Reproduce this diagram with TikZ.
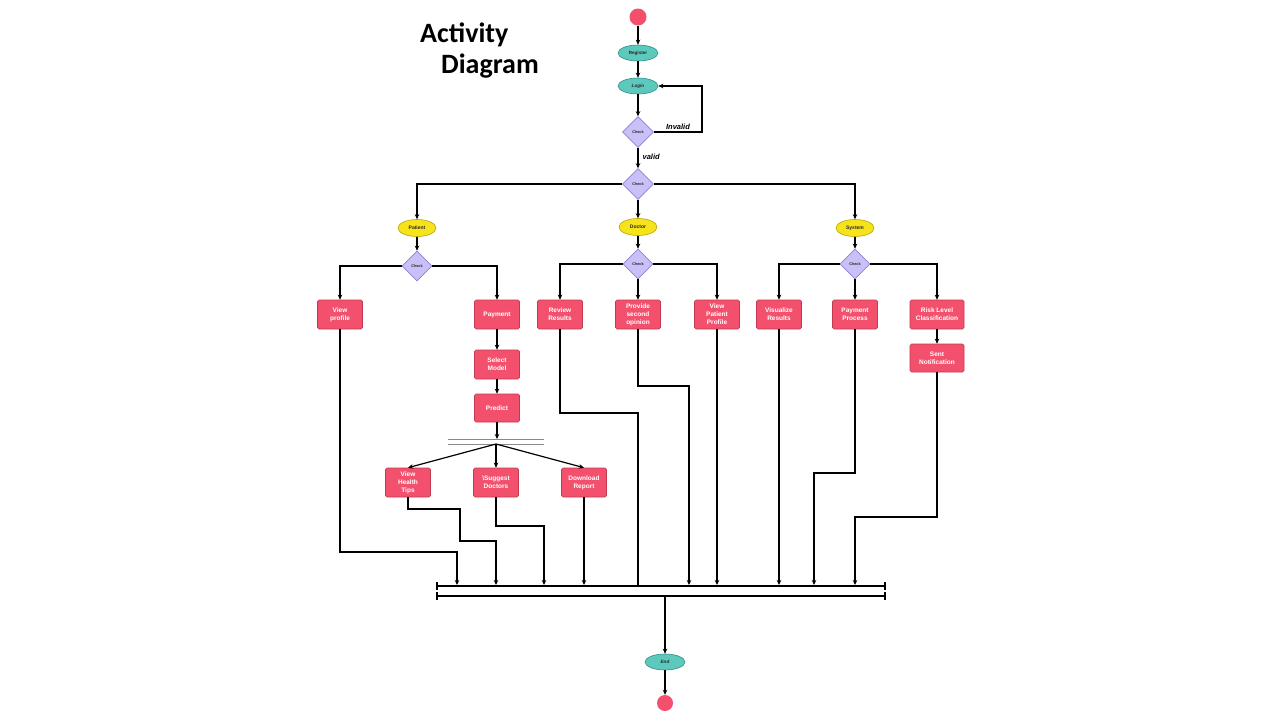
\documentclass[tikz,border=0pt]{standalone}
\usepackage{fontspec}
\setmainfont{Liberation Sans}
\newfontfamily\titlefont{Carlito}
\usetikzlibrary{shapes.geometric,arrows.meta}
\definecolor{pinkbox}{HTML}{F2506C}
\definecolor{pinkedge}{HTML}{C23A52}
\definecolor{tealfill}{HTML}{5CC9BC}
\definecolor{tealedge}{HTML}{2E8F85}
\definecolor{yellowfill}{HTML}{F7E31C}
\definecolor{yellowedge}{HTML}{B8A400}
\definecolor{lavfill}{HTML}{C9C0F7}
\definecolor{lavedge}{HTML}{8E80D8}
\definecolor{forkgray}{HTML}{8A8A8A}
\tikzset{
  flow/.style={line width=1.2pt, black},
  arr/.style={flow, -{Stealth[length=5pt,width=4.5pt]}},
  actbox/.style={draw=pinkedge, line width=0.6pt, fill=pinkbox, rounded corners=1.5pt,
    minimum width=45pt, minimum height=29pt, inner sep=1pt, align=center,
    text=white, font=\fontsize{6.5}{7.9}\selectfont\bfseries},
  tealell/.style={ellipse, draw=tealedge, line width=0.6pt, fill=tealfill, minimum width=40pt,
    minimum height=16pt, inner sep=0pt, font=\fontsize{4.6}{5}\selectfont\bfseries, text=black!85},
  yelell/.style={ellipse, draw=yellowedge, line width=0.6pt, fill=yellowfill, minimum width=38pt,
    minimum height=17pt, inner sep=0pt, font=\fontsize{5}{6}\selectfont\bfseries, text=black!85},
  chk/.style={diamond, draw=lavedge, line width=0.6pt, fill=lavfill, minimum width=31pt,
    minimum height=31pt, inner sep=0pt, font=\fontsize{3.8}{4}\selectfont\bfseries, text=black!85},
  dot/.style={circle, fill=pinkbox, minimum size=17pt, inner sep=0pt},
  lbl/.style={font=\fontsize{7.5}{8}\selectfont\bfseries\itshape, inner sep=0pt},
  ttl/.style={font=\titlefont\fontsize{28}{30}\selectfont\bfseries, inner sep=0pt, anchor=base west}
}
\begin{document}
\begin{tikzpicture}[x=1pt,y=-1pt]
\useasboundingbox[fill=white] (0,0) rectangle (1280,720);

% title
\node[ttl] (t1) at (420,42) {Activity};
\node[ttl] (t2) at (441,73) {Diagram};

% top part
\node[dot] (start) at (638,17) {};
\node[tealell] (reg) at (638,53) {Register};
\node[tealell, font=\fontsize{4.6}{5}\selectfont\bfseries\itshape] (login) at (638,86) {Login};
\node[chk] (chk1) at (638,132) {Check};
\node[chk] (chk2) at (638,184) {Check};
\coordinate (loopA) at (702,132);
\coordinate (loopB) at (702,86);

\node[yelell] (patient) at (417,228) {Patient};
\node[yelell] (doctor) at (638,227) {Doctor};
\node[yelell] (system) at (855,228) {System};

\node[chk, minimum width=30pt, minimum height=30pt] (chkP) at (417,266) {Check};
\node[chk, minimum width=30pt, minimum height=30pt] (chkD) at (638,264) {Check};
\node[chk, minimum width=30pt, minimum height=30pt] (chkS) at (855,264) {Check};

% activity boxes
\node[actbox] (viewprof) at (340,314.5) {View\\profile};
\node[actbox] (payment) at (497,314.5) {Payment};
\node[actbox] (review) at (560,314.5) {Review\\Results};
\node[actbox] (provide) at (638,314.5) {Provide\\second\\opinion};
\node[actbox] (viewpat) at (717,314.5) {View\\Patient\\Profile};
\node[actbox] (visual) at (779,314.5) {Visualize\\Results};
\node[actbox] (paypro) at (855,314.5) {Payment\\Process};
\node[actbox, minimum width=54pt] (risk) at (937,314.5) {Risk Level\\Classification};
\node[actbox, minimum width=54pt, minimum height=28pt] (sent) at (937,358) {Sent\\Notification};
\node[actbox] (select) at (497,364.5) {Select\\Model};
\node[actbox, minimum height=28pt] (predict) at (497,408) {Predict};

% fork
\coordinate (forkT) at (497,439);
\coordinate (forkB) at (496,444);
\draw[forkgray, line width=0.7pt] (448,439) -- (544,439);
\draw[forkgray, line width=0.7pt] (448,444) -- (544,444);

\node[actbox] (vht) at (408,482.5) {View\\Health\\Tips};
\node[actbox] (sugg) at (496,482.5) {\textbackslash Suggest\\Doctors};
\node[actbox] (dl) at (584,482.5) {Download\\Report};

% join bar
\draw[line width=1.8pt] (437,586) -- (885,586);
\draw[line width=1.8pt] (437,596) -- (885,596);
\foreach \x in {437,885} {
  \draw[line width=1.2pt] (\x,582) -- (\x,590);
  \draw[line width=1.2pt] (\x,592) -- (\x,600);
}
\coordinate (j1) at (457,585);
\coordinate (j2) at (496,585);
\coordinate (j3) at (544,585);
\coordinate (j4) at (584,585);
\coordinate (j5) at (638,585);
\coordinate (j6) at (689,585);
\coordinate (j7) at (717,585);
\coordinate (j8) at (779,585);
\coordinate (j9) at (814,585);
\coordinate (j10) at (855,585);
\coordinate (jout) at (665,597);

\node[tealell, font=\fontsize{4.6}{5}\selectfont\bfseries\itshape] (endell) at (665,662) {End};
\node[dot, minimum size=16pt] (enddot) at (665,703) {};

% connectors top
\draw[arr] (start) -- (reg);
\draw[arr] (reg) -- (login);
\draw[arr] (login) -- (chk1);
\draw[arr] (chk1.east) -- (loopA) -- (loopB) -- (login.east);
\node[lbl, anchor=south] at (678,130) {Invalid};
\draw[arr] (chk1) -- (chk2) node[lbl, pos=0.42, right=4pt] {valid};
\draw[arr] (chk2.west) -| (patient.north);
\draw[arr] (chk2.east) -| (system.north);
\draw[arr] (chk2) -- (doctor);
\draw[arr] (patient) -- (chkP);
\draw[arr] (doctor) -- (chkD);
\draw[arr] (system) -- (chkS);

\draw[arr] (chkP.west) -| (viewprof.north);
\draw[arr] (chkP.east) -| (payment.north);
\draw[arr] (chkD.west) -| (review.north);
\draw[arr] (chkD) -- (provide);
\draw[arr] (chkD.east) -| (viewpat.north);
\draw[arr] (chkS.west) -| (visual.north);
\draw[arr] (chkS) -- (paypro);
\draw[arr] (chkS.east) -| (risk.north);
\draw[arr] (risk) -- (sent);
\draw[arr] (payment) -- (select);
\draw[arr] (select) -- (predict);
\draw[arr] (predict) -- (forkT);
\draw[arr] (forkB) -- (vht.north);
\draw[arr] (forkB) -- (sugg.north);
\draw[arr] (forkB) -- (dl.north);

% connectors to join
\draw[arr] (viewprof.south) -- (340,552) -- (457,552) -- (j1);
\draw[arr] (vht.south) -- (408,509) -- (460,509) -- (460,541) -- (496,541) -- (j2);
\draw[arr] (sugg.south) -- (496,526) -- (544,526) -- (j3);
\draw[arr] (dl.south) -- (j4);
\draw[flow] (review.south) -- (560,413) -- (638,413) -- (j5);
\draw[arr] (provide.south) -- (638,386) -- (689,386) -- (j6);
\draw[arr] (viewpat.south) -- (j7);
\draw[arr] (visual.south) -- (j8);
\draw[arr] (paypro.south) -- (855,473) -- (814,473) -- (j9);
\draw[arr] (sent.south) -- (937,517) -- (855,517) -- (j10);
\draw[arr] (jout) -- (endell);
\draw[arr] (endell) -- (enddot);
\end{tikzpicture}
\end{document}
